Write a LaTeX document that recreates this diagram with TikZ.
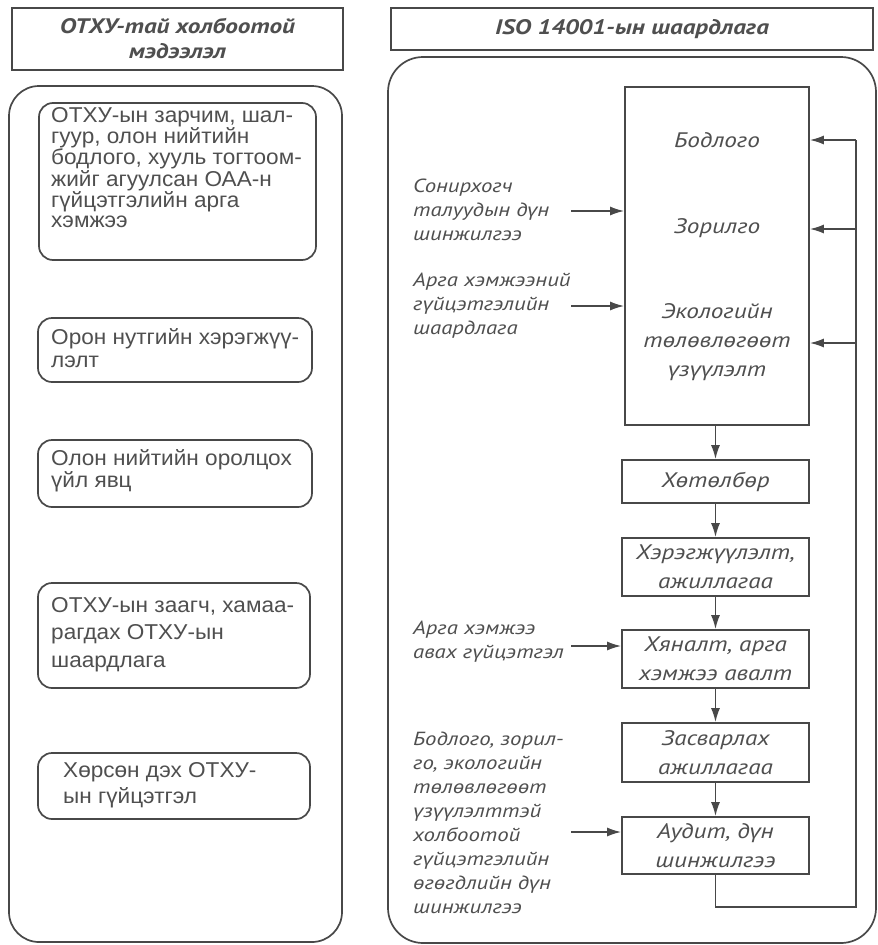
\documentclass[tikz,border=0pt]{standalone}
\usepackage{fontspec}
\setmainfont{Liberation Sans}[FakeStretch=1.05]
\newfontfamily\ptsans{PT Sans}[FakeStretch=1.2]
\usetikzlibrary{arrows.meta}
\definecolor{ink}{HTML}{484848}
\definecolor{txt}{HTML}{4F4F4F}
\begin{document}
\begin{tikzpicture}[x=1pt,y=-1pt,
  line/.style={draw=ink,line width=1.7pt},
  arr/.style={line,-{Latex[length=14pt,width=9pt]}},
  lbox/.style={line,rounded corners=14pt},
  ltext/.style={anchor=west,align=left,inner sep=0pt,text=txt,font=\fontsize{21.5}{20}\selectfont},
  itext/.style={anchor=west,align=left,inner sep=0pt,text=txt,font=\ptsans\itshape\fontsize{19}{24}\selectfont},
  blabel/.style={align=center,inner sep=0pt,text=txt,font=\ptsans\itshape\fontsize{21}{29}\selectfont},
  flow/.style={line,minimum width=187pt,minimum height=#1,inner sep=0pt,align=center,text=txt,font=\ptsans\itshape\fontsize{21}{29}\selectfont},
  ttl/.style={line,inner sep=0pt,align=center,text=txt,font=\ptsans\bfseries\itshape\fontsize{21}{25}\selectfont}
]
\useasboundingbox (0,0) rectangle (878,945);
\fill[white] (0,0) rectangle (878,945);

% ---------- left panel ----------
\node[ttl,minimum width=331pt,minimum height=62pt] (ltitle) at (177.5,39) {ОТХУ-тай холбоотой\\мэдээлэл};
\draw[line,rounded corners=30pt] (9,86) rectangle (342,942);

\draw[lbox] (39,103) rectangle (316,260);
\node[ltext] (t1) at (51,167.5) {ОТХУ-ын зарчим, шал-\\гуур, олон нийтийн\\бодлого, хууль тогтоом-\\жийг агуулсан ОАА-н\\гүйцэтгэлийн арга\\хэмжээ};

\draw[lbox] (38,318) rectangle (312,382);
\node[ltext,font=\fontsize{21.5}{23}\selectfont] (t2) at (51,348.5) {Орон нутгийн хэрэгжүү-\\лэлт};

\draw[lbox] (38,440) rectangle (312,507);
\node[ltext,font=\fontsize{21.5}{22}\selectfont] (t3) at (51,471) {Олон нийтийн оролцох\\үйл явц};

\draw[lbox] (38,583) rectangle (310,688);
\node[ltext,font=\fontsize{21.5}{27.5}\selectfont] (t4) at (51,634.5) {ОТХУ-ын заагч, хамаа-\\рагдах ОТХУ-ын\\шаардлага};

\draw[lbox] (38,753) rectangle (310,819);
\node[ltext,font=\fontsize{21.5}{26}\selectfont] (t5) at (63,785) {Хөрсөн дэх ОТХУ-\\ын гүйцэтгэл};

% ---------- right panel ----------
\node[ttl,minimum width=482pt,minimum height=42pt] (rtitle) at (632,29) {ISO 14001-ын шаардлага};
\draw[line,rounded corners=35pt] (388,57) rectangle (876,943);

\node[line,minimum width=184pt,minimum height=338pt,inner sep=0pt] (big) at (717,256) {};
\node[blabel] (bod) at (717,140) {Бодлого};
\node[blabel] (zor) at (717,228) {Зорилго};
\node[blabel] (eco) at (717,342) {Экологийн\\төлөвлөгөөт\\үзүүлэлт};

\node[flow=43pt] (hot) at (715.5,481.5) {Хөтөлбөр};
\node[flow=58pt] (her) at (715.5,567) {Хэрэгжүүлэлт,\\ажиллагаа};
\node[flow=58pt] (hya) at (715.5,659) {Хяналт, арга\\хэмжээ авалт};
\node[flow=59pt] (zas) at (715.5,752.5) {Засварлах\\ажиллагаа};
\node[flow=57pt] (aud) at (715.5,845.5) {Аудит, дүн\\шинжилгээ};

\draw[arr] (hot.north |- big.south) -- (hot.north);
\draw[arr] (hot) -- (her);
\draw[arr] (her) -- (hya);
\draw[arr] (hya) -- (zas);
\draw[arr] (zas) -- (aud);

% feedback loop
\coordinate (fbb) at (856,907);
\coordinate (fbt) at (856,140);
\coordinate (fb2) at (856,229);
\coordinate (fb3) at (856,343);
\draw[line] (aud.south) |- (fbb) -- (fbt);
\draw[arr] (fbt) -- (fbt -| big.east);
\draw[arr] (fb2) -- (fb2 -| big.east);
\draw[arr] (fb3) -- (fb3 -| big.east);

% inputs
\node[itext] (in1) at (413,210) {Сонирхогч\\талуудын дүн\\шинжилгээ};
\node[itext] (in2) at (413,306) {Арга хэмжээний\\гүйцэтгэлийн\\шаардлага};
\node[itext] (in3) at (413,641.5) {Арга хэмжээ\\авах гүйцэтгэл};
\node[itext] (in4) at (413,822.5) {Бодлого, зорил-\\го, экологийн\\төлөвлөгөөт\\үзүүлэлттэй\\холбоотой\\гүйцэтгэлийн\\өгөгдлийн дүн\\шинжилгээ};
\coordinate (a1) at (571,211);
\coordinate (a2) at (571,306);
\coordinate (a3) at (571,646);
\coordinate (a4) at (571,832);
\draw[arr] (a1) -- (a1 -| big.west);
\draw[arr] (a2) -- (a2 -| big.west);
\draw[arr] (a3) -- (a3 -| hya.west);
\draw[arr] (a4) -- (a4 -| aud.west);
\end{tikzpicture}
\end{document}
